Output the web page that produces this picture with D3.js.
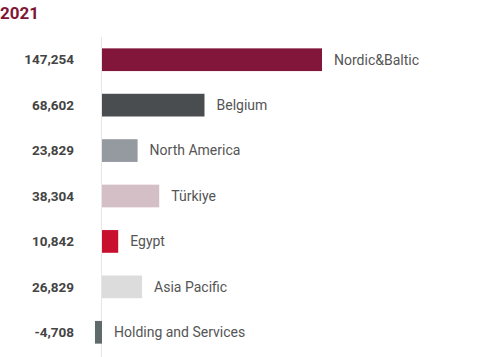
<!DOCTYPE html>
<html lang="en">
<head>
<meta charset="UTF-8">
<title>2021</title>
<script src="https://cdn.jsdelivr.net/npm/d3@7/dist/d3.min.js"></script>
<style>
  body { margin: 0; background: #fff; }
  text { font-family: Roboto, "Noto Sans", sans-serif; }
</style>
</head>
<body>
<script>
var regions = ["Nordic&Baltic", "Belgium", "North America", "Türkiye", "Egypt", "Asia Pacific", "Holding and Services"];
var values = [147254, 68602, 23829, 38304, 10842, 26829, -4708];
var colors = ["#82163a", "#4a4d50", "#9599a0", "#d5bfc6", "#c8102e", "#dcdcdc", "#5f6b6b"];

var w = 480, h = 357;
var svg = d3.select("body").append("svg")
    .attr("width", w)
    .attr("height", h);

svg.append("text")
    .attr("x", 0)
    .attr("y", 19)
    .attr("font-size", 17)
    .attr("font-weight", "bold")
    .attr("fill", "#7f1734")
    .text("2021");

var x = d3.scaleLinear()
    .domain([0, 147254])
    .range([102, 322]);

var y = d3.scaleBand()
    .domain(regions)
    .range([37, 355])
    .paddingInner(0.5)
    .paddingOuter(0.25);

// zero line
svg.append("line")
    .attr("x1", x(0) - 0.5).attr("x2", x(0) - 0.5)
    .attr("y1", 37).attr("y2", h)
    .attr("stroke", "#e6e6e6")
    .attr("stroke-width", 1);

var rows = svg.selectAll("g.row")
    .data(regions)
    .enter()
    .append("g")
    .attr("class", "row");

rows.append("rect")
    .attr("x", function(d, i) { return Math.min(x(0), x(values[i])) })
    .attr("y", function(d) { return y(d) })
    .attr("width", function(d, i) { return Math.abs(x(values[i]) - x(0)) })
    .attr("height", y.bandwidth())
    .attr("fill", function(d, i) { return colors[i] });

rows.append("text")
    .attr("x", 74)
    .attr("y", function(d) { return y(d) + y.bandwidth() / 2 })
    .attr("dy", "0.35em")
    .attr("text-anchor", "end")
    .attr("font-size", 13.5)
    .attr("font-weight", "bold")
    .attr("fill", "#444")
    .text(function(d, i) { return d3.format(",")(values[i]).replace("−", "-") });

rows.append("text")
    .attr("x", function(d, i) { return Math.max(x(0), x(values[i])) + 12 })
    .attr("y", function(d) { return y(d) + y.bandwidth() / 2 })
    .attr("dy", "0.35em")
    .attr("font-size", 14)
    .attr("fill", "#555")
    .text(function(d) { return d });
</script>
</body>
</html>
